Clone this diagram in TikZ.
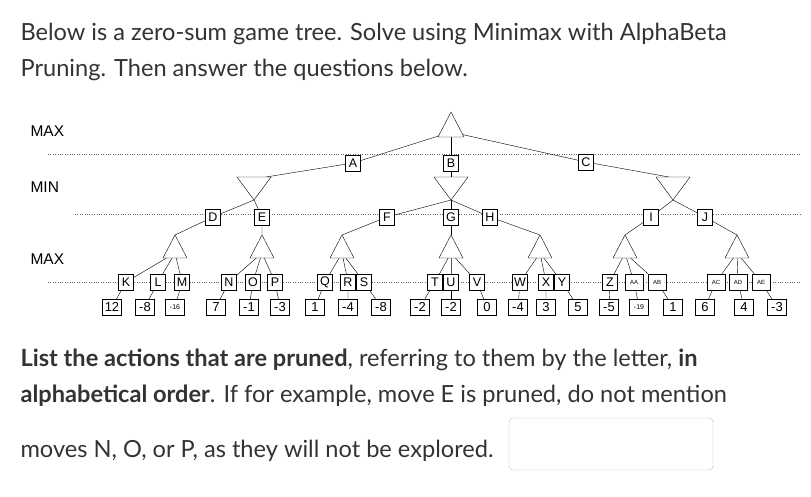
\documentclass[tikz,border=0pt]{standalone}
\usepackage{fontspec}
\usetikzlibrary{calc}
\setmainfont{Lato}
\newfontfamily\arialf{Liberation Sans}
\begin{document}
\begin{tikzpicture}[x=1pt,y=-1pt,
  lb/.style={draw,fill=white,inner sep=0pt,minimum width=15pt,minimum height=16pt,font=\arialf\fontsize{12.5}{12.5}\selectfont},
  sb/.style={lb,font=\arialf\fontsize{6}{6}\selectfont,minimum width=18pt},
  vb/.style={draw,fill=white,inner sep=0pt,minimum width=19pt,minimum height=16pt,font=\arialf\fontsize{13}{13}\selectfont},
  vs/.style={vb,font=\arialf\fontsize{7}{7}\selectfont},
  lvl/.style={font=\arialf\fontsize{15.5}{15.5}\selectfont,anchor=west},
  dl/.style={dotted,gray!80!black},
  tri/.style={draw,fill=white},
  txt/.style={anchor=base west,font=\fontsize{23.6}{23.6}\selectfont,text=black!80}]
\useasboundingbox (0,0) rectangle (811,496);
% text
\node[txt] (t1) at (17,40) {Below is a zero-sum game tree. Solve using Minimax with AlphaBeta};
\node[txt] (t2) at (17,76) {Pruning. Then answer the questions below.};
\node[txt] (t3) at (17,366) {\textbf{List the actions that are pruned}, referring to them by the letter, \textbf{in}};
\node[txt] (t4) at (17,402) {\textbf{alphabetical order}. If for example, move E is pruned, do not mention};
\node[txt] (t5) at (17,457) {moves N, O, or P, as they will not be explored.};
\node[draw=gray!55,rounded corners=4pt,minimum width=204pt,minimum height=52pt] (inp) at (611,444) {};
% levels
\node[lvl] (l1) at (27,131) {MAX};
\node[lvl] (l2) at (27,187) {MIN};
\node[lvl] (l3) at (27,259) {MAX};
\draw[dl] (48,154) -- (800,154);
\draw[dl] (75,214) -- (800,214);
\draw[dl] (48,282) -- (800,282);
% triangle coordinates
\coordinate (r) at (451,112);
\coordinate (mA) at (254,177); \coordinate (mB) at (451,177); \coordinate (mC) at (673,177);
\foreach \n/\x in {D/175,E/262,F/342,G/451,H/540,I/625,J/737}{\coordinate (x\n) at (\x,235);}
% edges root -> min
\node[lb] (A) at (353,163) {A};
\node[lb] (B) at (451,163) {B};
\node[lb] (C) at (586,162) {C};
\draw (451,132) -- (A) -- ($(mA)+(12,0)$);
\draw (451,132) -- (B) -- (mB);
\draw (451,132) -- (C) -- ($(mC)+(-4,0)$);
% min -> max
\foreach \p/\c/\x in {mA/D/213,mA/E/262,mB/F/387,mB/G/451,mB/H/490,mC/I/651,mC/J/705}{
  \node[lb] (\c) at (\x,217) {\c};
  \draw ($(\p)+(0,23)$) -- (\c) -- (x\c);
}
% triangles
\fill[white] (r) -- ++(13,25) -- ++(-26,0) -- cycle;
\draw (r) -- ++(13,25) -- ++(-26,0) -- cycle;
\foreach \m in {mA,mB,mC}{\draw[tri] ($(\m)+(-17,0)$) -- ++(34,0) -- ++(-17,23) -- cycle;}
% leaves
\foreach \p/\c/\x/\v/\vx/\s in {
 D/K/126/12/112/0, D/L/158/-8/145/0, D/M/182/-16/175/1,
 E/N/229/7/216/0, E/O/253/-1/249/0, E/P/275/-3/280/0,
 F/Q/325/1/315/0, F/R/348/-4/348/0, F/S/364/-8/381/0,
 G/T/435/-2/420/0, G/U/451/-2/451/0, G/V/477/0/487/0,
 H/W/520/-4/518/0, H/X/546/3/546/0, H/Y/562/5/578/0,
 I/Z/610/-5/609/0, I/AA/634/-19/639/1, I/AB/657/1/673/0,
 J/AC/716/6/705/0, J/AD/738/4/744/0, J/AE/761/-3/777/0}{
  \ifnum\s=1 \node[vs] (v\c) at (\vx,307) {\v};\else\node[vb] (v\c) at (\vx,307) {\v};\fi
  \draw ($(x\p)+(0,18)$) -- (\x,282) -- (v\c);
}
\foreach \c/\x in {K/126,L/158,M/182,N/229,O/253,P/275,Q/325,R/348,S/364,T/435,U/451,V/477,W/520,X/546,Y/562,Z/610}{
  \node[lb] (\c) at (\x,282) {\c};}
\foreach \c/\x in {AA/634,AB/657,AC/716,AD/738,AE/761}{
  \node[sb] (\c) at (\x,282) {\c};}
\foreach \n in {D,E,F,G,H,I,J}{\draw[tri] (x\n) -- ++(12,23) -- ++(-24,0) -- cycle;}
\end{tikzpicture}
\end{document}
